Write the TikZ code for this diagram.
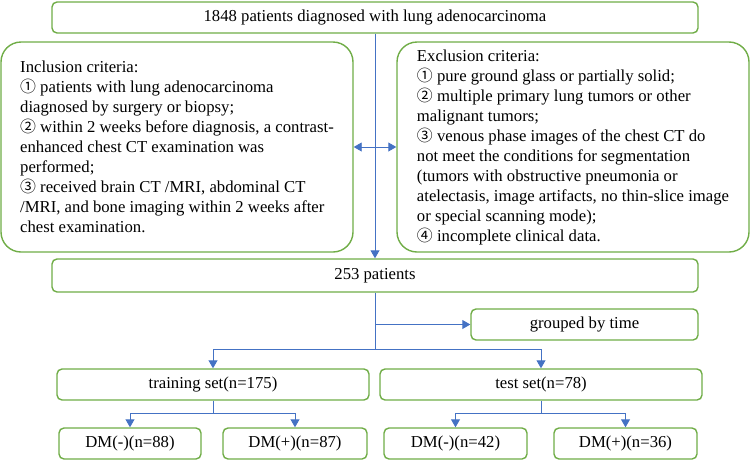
\documentclass[tikz,border=0pt]{standalone}
\usepackage{fontspec}
\setmainfont{Liberation Serif}
\newfontfamily\circfont{Noto Sans CJK SC}[Scale=0.95]
\usetikzlibrary{arrows.meta}
\definecolor{boxgreen}{RGB}{112,173,71}
\definecolor{lineblue}{RGB}{68,114,196}
\newcommand{\cnum}[1]{{\circfont #1}}

\begin{document}
\begin{tikzpicture}[x=1pt,y=-1pt,
  box/.style={draw=boxgreen,line width=1.4pt,rounded corners=5pt,fill=white,inner sep=0pt,minimum height=31pt,font=\fontsize{16.7}{20}\selectfont},
  bigbox/.style={box,rounded corners=20pt,align=left,minimum width=352pt,minimum height=210pt},
  lin/.style={draw=lineblue,line width=0.9pt},
  arr/.style={lin,-{Triangle[length=8pt,width=9pt]}},
  dbl/.style={lin,{Triangle[length=8pt,width=9pt]}-{Triangle[length=8pt,width=9pt]}}]
\useasboundingbox (0,0) rectangle (750,461);
\node[box,minimum width=646pt] (all) at (375,17.5) {1848 patients diagnosed with lung adenocarcinoma};
\node[bigbox] (incl) at (177,147) {Inclusion criteria:\\ \cnum{①} patients with lung adenocarcinoma\\ diagnosed by surgery or biopsy;\\ \cnum{②} within 2 weeks before diagnosis, a contrast-\\ enhanced chest CT examination was\\ performed;\\ \cnum{③} received brain CT /MRI, abdominal CT\\ /MRI, and bone imaging within 2 weeks after\\ chest examination.};
\node[bigbox] (excl) at (573,147) {Exclusion criteria:\\ \cnum{①} pure ground glass or partially solid;\\ \cnum{②} multiple primary lung tumors or other\\ malignant tumors;\\ \cnum{③} venous phase images of the chest CT do\\ not meet the conditions for segmentation\\ (tumors with obstructive pneumonia or\\ atelectasis, image artifacts, no thin-slice image\\ or special scanning mode);\\ \cnum{④} incomplete clinical data.};
\node[box,minimum width=646pt,minimum height=33pt] (p253) at (375,275.5) {253 patients};
\node[box,minimum width=227pt] (grouped) at (584.5,324.5) {grouped by time};
\node[box,minimum width=312pt] (train) at (213,384.5) {training set(n=175)};
\node[box,minimum width=322pt] (test) at (541,384.5) {test set(n=78)};
\node[box,minimum width=142pt] (dmA) at (130,443.5) {DM(-)(n=88)};
\node[box,minimum width=144pt] (dmB) at (295,443.5) {DM(+)(n=87)};
\node[box,minimum width=143pt] (dmC) at (455.5,443.5) {DM(-)(n=42)};
\node[box,minimum width=143pt] (dmD) at (625.5,443.5) {DM(+)(n=36)};
\coordinate (split) at (375,349);
\coordinate (trsplit) at (213,413);
\coordinate (tesplit) at (541,413);
\draw[arr] (all.south) -- (p253.north);
\draw[dbl] (incl.east) -- (excl.west);
\draw[lin] (p253.south) -- (split);
\draw[arr] (p253.south |- grouped.west) -- (grouped.west);
\draw[arr] (split) -| (train.north);
\draw[arr] (split) -| (test.north);
\draw[lin] (train.south) -- (trsplit);
\draw[arr] (trsplit) -| (dmA.north);
\draw[arr] (trsplit) -| (dmB.north);
\draw[lin] (test.south) -- (tesplit);
\draw[arr] (tesplit) -| (dmC.north);
\draw[arr] (tesplit) -| (dmD.north);
\end{tikzpicture}
\end{document}
